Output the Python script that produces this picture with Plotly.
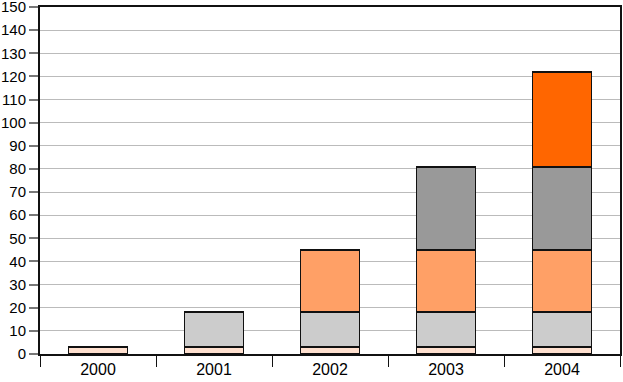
import plotly.graph_objects as go

years = ["2000", "2001", "2002", "2003", "2004"]
s1 = [3, 3, 3, 3, 3]
s2 = [None, 15, 15, 15, 15]
s3 = [None, None, 27, 27, 27]
s4 = [None, None, None, 36, 36]
s5 = [None, None, None, None, 41]
series = [s1, s2, s3, s4, s5]
colors = ["#FFE0CF", "#CCCCCC", "#FFA066", "#999999", "#FF6600"]

fig = go.Figure()
for vals, c in zip(series, colors):
    fig.add_trace(go.Bar(x=years, y=vals, marker=dict(color=c, line=dict(color="#111111", width=1.8)),
                         showlegend=False, hoverinfo="skip"))

fig.update_layout(
    barmode="stack", bargap=0.49,
    width=623, height=382,
    margin=dict(l=40, r=3, t=7, b=28),
    plot_bgcolor="white", paper_bgcolor="white",
    font=dict(family="Liberation Sans, Arial, sans-serif", size=15, color="#000000"),
)
fig.update_xaxes(type="category", showline=True, linecolor="#111111", linewidth=2, mirror=True,
                 ticks="outside", tickson="boundaries", ticklen=11, tickcolor="#111111", tickwidth=1,
                 showgrid=False, automargin=False, tickfont=dict(size=16))
fig.update_yaxes(range=[0, 150], dtick=10, showline=True, linecolor="#111111", linewidth=2, mirror=True,
                 ticks="outside", ticklen=9, tickcolor="#777777", tickwidth=2,
                 showgrid=True, gridcolor="#BBBBBB", gridwidth=1, zeroline=False, automargin=False,
                 ticklabeloverflow="allow", tickfont=dict(size=15))
fig.write_html("out.html", config={"displayModeBar": False, "staticPlot": True},
               post_script="document.body.style.margin='0';document.body.style.overflow='hidden';")
